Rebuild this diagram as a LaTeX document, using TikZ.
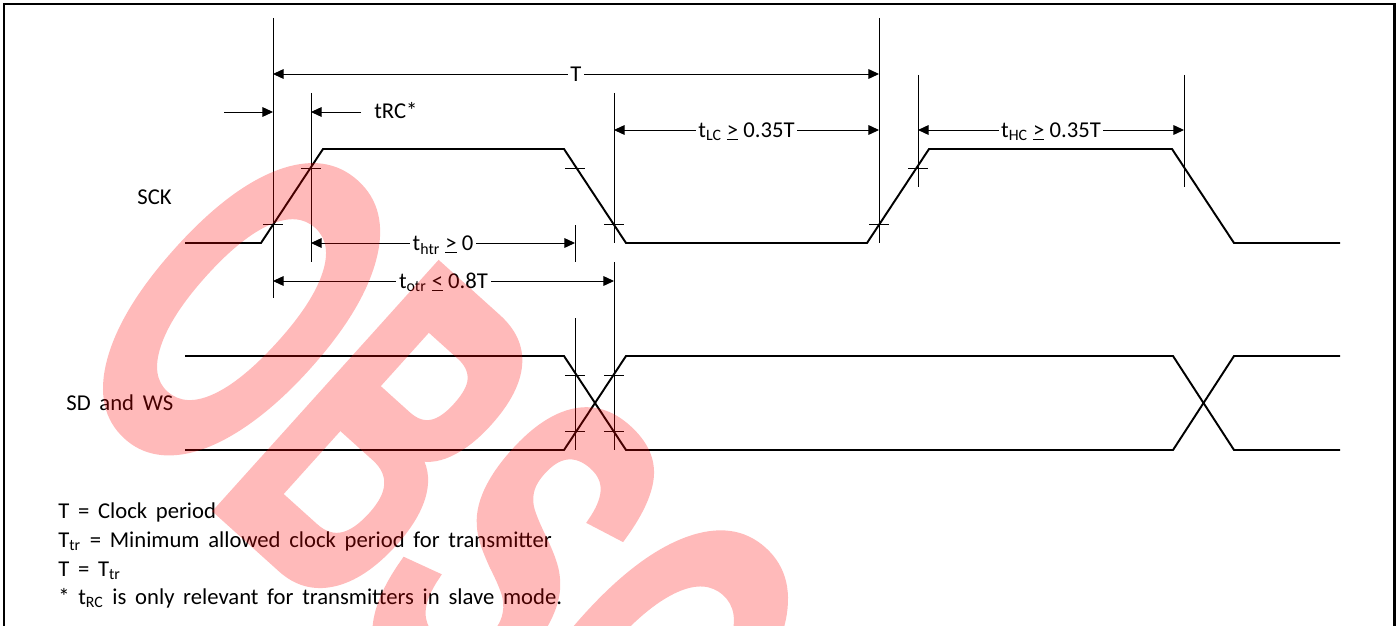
\documentclass[tikz,border=0pt]{standalone}
\usepackage{fontspec}
\setmainfont{Carlito}
\newfontfamily\notefont{Carlito}[WordSpace=1.7]
\newfontfamily\wmfont{Liberation Sans Bold}[FakeBold=2]
\usepackage{graphicx}
\usetikzlibrary{arrows.meta,calc}
\newcommand{\lfont}{\fontsize{12.9}{15.5}\selectfont}
\newcommand{\tk}[2]{\draw [guide] ({#1-10},#2) -- ++(20,0);}
\tikzset{
  wave/.style={line width=1.1pt, line join=miter},
  guide/.style={line width=0.55pt},
  dim/.style={guide, <->},
  lbl/.style={fill=white, inner sep=1.5pt, text height=8.3pt, text depth=0pt},
  txt/.style={anchor=base west, inner sep=0pt, font=\notefont\lfont}
}
\begin{document}
\begin{tikzpicture}[x=0.02cm, y=-0.02cm, font=\lfont, >={Triangle[length=6pt,width=5.5pt]}]
\useasboundingbox (0,0) rectangle (1398,625);
\clip (0,0) rectangle (1398,625);
\draw [line width=1.7pt] (4,4) rectangle (1394.5,660);
\draw [wave] (185,243) -- (261,243) -- (323,149) -- (564,149) -- (626,243) -- (867,243) -- (929,149) -- (1172,149) -- (1234,243) -- (1340,243);
\draw [wave] (185,356) -- (564,356) -- (626,450) -- (1173,450) -- (1234,356) -- (1340,356);
\draw [wave] (185,450) -- (564,450) -- (626,356) -- (1173,356) -- (1234,450) -- (1340,450);
\draw [guide] (273,18) -- (273,298);
\draw [guide] (311,93) -- (311,262);
\draw [guide] (575,225) -- (575,262);
\draw [guide] (575,318) -- (575,450);
\draw [guide] (614,93) -- (614,243);
\draw [guide] (614,262) -- (614,450);
\draw [guide] (879,18) -- (879,243);
\draw [guide] (918,75) -- (918,187);
\draw [guide] (1184,75) -- (1184,187);
\tk{273}{224} \tk{311}{168} \tk{575}{168} \tk{614}{224} \tk{879}{224} \tk{918}{168}
\tk{575}{375} \tk{575}{431} \tk{614}{375} \tk{614}{431}
\coordinate (T1) at (273,74); \coordinate (T2) at (879,74);
\coordinate (r1) at (224,112); \coordinate (r2) at (273,112);
\coordinate (r3) at (361,112); \coordinate (r4) at (311,112);
\coordinate (lc1) at (614,130); \coordinate (lc2) at (879,130);
\coordinate (hc1) at (918,130); \coordinate (hc2) at (1184,130);
\coordinate (h1) at (311,243); \coordinate (h2) at (575,243);
\coordinate (o1) at (273,281); \coordinate (o2) at (614,281);
\draw [dim] (T1) -- node[lbl] (tT) {T} (T2);
\draw [guide,->] (r1) -- (r2);
\draw [guide,->] (r3) -- (r4);
\node [txt] (trc) at (374,118) {tRC*};
\draw [dim] (lc1) -- node[lbl] (tlc) {t\textsubscript{LC} \underline{>} 0.35T} (lc2);
\draw [dim] (hc1) -- node[lbl] (thc) {t\textsubscript{HC} \underline{>} 0.35T} (hc2);
\draw [dim] (h1) -- node[lbl] (thtr) {t\textsubscript{htr} \underline{>} 0} (h2);
\draw [dim] (o1) -- node[lbl] (totr) {t\textsubscript{otr} \underline{<} 0.8T} (o2);
\node [txt] (sck) at (137,204) {SCK};
\node [txt] (sdws) at (66,410) {SD and WS};
\node [txt] (n1) at (58,518) {T = Clock period};
\node [txt] (n2) at (58,547) {T\textsubscript{tr} = Minimum allowed clock period for transmitter};
\node [txt] (n3) at (58,576) {T = T\textsubscript{tr}};
\node [txt] (n4) at (58,604) {* t\textsubscript{RC} is only relevant for transmitters in slave mode.};
\begin{scope}[transparency group, opacity=0.27]
\node [txt, rotate=-42, text=red, font=\wmfont\fontsize{272}{274}\selectfont] (wm) at (58,366) {\scalebox{0.53}[1]{OBSOLETE}};
\end{scope}
\end{tikzpicture}
\end{document}
